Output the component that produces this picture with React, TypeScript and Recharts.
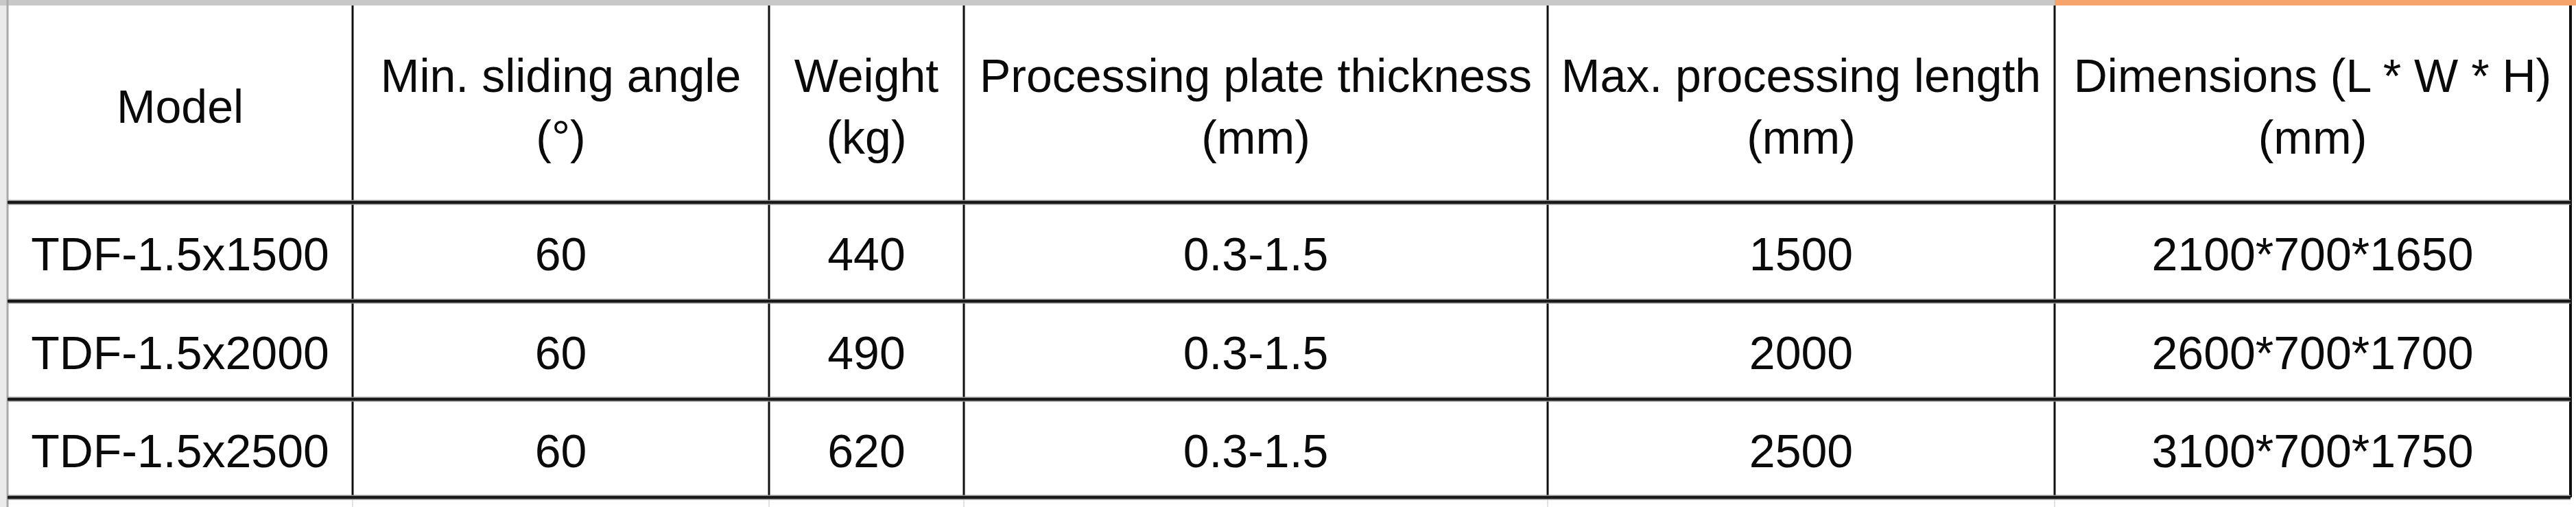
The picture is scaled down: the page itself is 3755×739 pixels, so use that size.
import React from 'react'
import { ScatterChart, Scatter, XAxis, YAxis, ReferenceLine, ReferenceArea } from 'recharts'

// table content
const columnHeaders = [
  'Model',
  'Min. sliding angle\n(°)',
  'Weight\n(kg)',
  'Processing plate thickness\n(mm)',
  'Max. processing length\n(mm)',
  'Dimensions (L * W * H)\n(mm)',
]
const models = ['TDF-1.5x1500', 'TDF-1.5x2000', 'TDF-1.5x2500']
const minSlidingAngle = [60, 60, 60]
const weightKg = [440, 490, 620]
const plateThickness = ['0.3-1.5', '0.3-1.5', '0.3-1.5']
const maxLength = [1500, 2000, 2500]
const dimensions = ['2100*700*1650', '2600*700*1700', '3100*700*1750']

// layout (chart units = pixels)
const W = 3755
const H = 739
const TABLE_LEFT = 11
const TABLE_TOP = 8
const COL_WIDTHS = [503, 607, 284, 851, 739, 752]
const ROW_HEIGHTS = [287, 144, 143, 143]
const FONT_SIZE = 68
const LINE_HEIGHT = 90

const colEdges = COL_WIDTHS.reduce((acc, w) => [...acc, acc[acc.length - 1] + w], [TABLE_LEFT])
const rowEdges = ROW_HEIGHTS.reduce((acc, h) => [...acc, acc[acc.length - 1] + h], [TABLE_TOP])
const TABLE_RIGHT = colEdges[colEdges.length - 1]
const TABLE_BOTTOM = rowEdges[rowEdges.length - 1]

const rows: string[][] = [
  columnHeaders,
  ...models.map((m, i) => [
    m,
    String(minSlidingAngle[i]),
    String(weightKg[i]),
    plateThickness[i],
    String(maxLength[i]),
    dimensions[i],
  ]),
]

const cells = rows.flatMap((row, r) =>
  row.map((text, c) => ({
    x: (colEdges[c] + colEdges[c + 1]) / 2,
    y: (rowEdges[r] + rowEdges[r + 1]) / 2,
    text,
  }))
)

const CellText = (props: any) => {
  const { cx, cy, payload } = props
  const lines: string[] = payload.text.split('\n')
  return (
    <text
      x={cx}
      textAnchor="middle"
      fontFamily="'Liberation Sans', Arial, sans-serif"
      fontSize={FONT_SIZE}
      fill="#0a0a0a"
    >
      {lines.map((line, i) => (
        <tspan key={i} x={cx} y={cy + FONT_SIZE * 0.4 + (i - (lines.length - 1) / 2) * LINE_HEIGHT}>
          {line}
        </tspan>
      ))}
    </text>
  )
}

export default function App() {
  return (
    <div style={{ position: 'absolute', left: 0, top: 0, width: W, height: H, background: '#fff' }}>
      <ScatterChart width={W} height={H} margin={{ top: 0, right: 0, bottom: 0, left: 0 }}>
        <XAxis type="number" dataKey="x" domain={[0, W]} allowDataOverflow hide />
        <YAxis type="number" dataKey="y" domain={[0, H]} allowDataOverflow reversed hide />

        {/* spreadsheet frame: top strip and left strip */}
        <ReferenceArea x1={0} x2={colEdges[5]} y1={0} y2={TABLE_TOP} fill="#c8c8c8" fillOpacity={1} stroke="none" />
        <ReferenceArea x1={colEdges[5]} x2={W} y1={0} y2={TABLE_TOP} fill="#f6a46c" fillOpacity={1} stroke="none" />
        <ReferenceArea x1={0} x2={TABLE_LEFT - 1} y1={TABLE_TOP} y2={H} fill="#ebebeb" fillOpacity={1} stroke="none" />

        {/* faint gridlines below the table */}
        {colEdges.slice(1, -1).map((x) => (
          <ReferenceLine
            key={`g${x}`}
            segment={[{ x, y: TABLE_BOTTOM }, { x, y: H }]}
            stroke="#e2e2e2"
            strokeWidth={2}
          />
        ))}

        {/* left border */}
        <ReferenceLine
          segment={[{ x: TABLE_LEFT, y: 0 }, { x: TABLE_LEFT, y: H }]}
          stroke="#a9a9a9"
          strokeWidth={3}
        />

        {/* vertical cell borders */}
        {colEdges.slice(1).map((x) => (
          <ReferenceLine
            key={`v${x}`}
            segment={[{ x, y: TABLE_TOP }, { x, y: TABLE_BOTTOM }]}
            stroke="#0f0f0f"
            strokeWidth={x === TABLE_RIGHT ? 4 : 3}
          />
        ))}

        {/* horizontal cell borders */}
        {rowEdges.slice(1).map((y) => (
          <ReferenceLine
            key={`hs${y}`}
            segment={[{ x: TABLE_LEFT, y }, { x: TABLE_RIGHT, y }]}
            stroke="#8a8a8a"
            strokeWidth={7}
          />
        ))}
        {rowEdges.slice(1).map((y) => (
          <ReferenceLine
            key={`h${y}`}
            segment={[{ x: TABLE_LEFT, y }, { x: TABLE_RIGHT, y }]}
            stroke="#1a1a1a"
            strokeWidth={4}
          />
        ))}

        <Scatter data={cells} shape={CellText} isAnimationActive={false} />
      </ScatterChart>
    </div>
  )
}
